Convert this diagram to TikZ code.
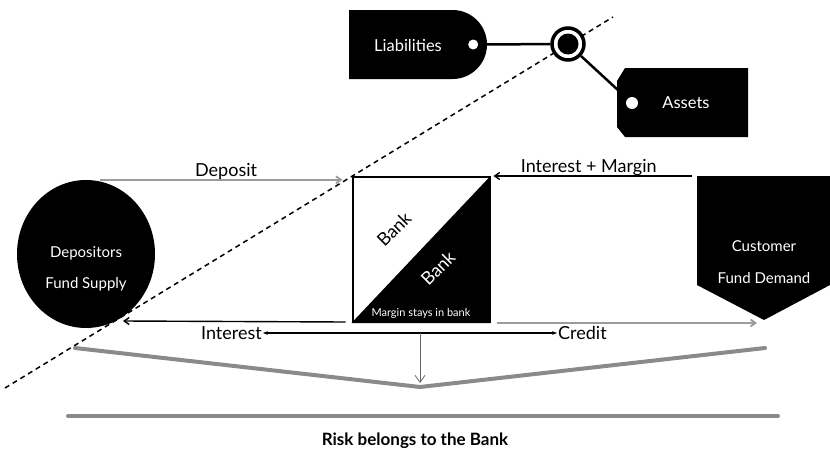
\documentclass[tikz,border=0pt]{standalone}
\usepackage{fontspec}
\setmainfont{Lato}
\usetikzlibrary{arrows.meta, positioning, shapes.geometric, shapes.misc}
\definecolor{flowgray}{HTML}{9B9B9B}
\definecolor{riskgray}{HTML}{8A8A8A}

\begin{document}
\begin{tikzpicture}[
    x=1pt, y=-1pt,
    >=Stealth,
    % --- shape styles ---
    tagbox/.style={fill=black, inner sep=0pt},
    tagtext/.style={text=white, font=\fontsize{16.5}{19}\selectfont},
    hole/.style={circle, fill=white, inner sep=0pt, minimum size=#1},
    party/.style={text=white, align=center, font=\fontsize{15}{18}\selectfont},
    flow/.style={text=black, font=\fontsize{18}{21}\selectfont},
    banktext/.style={rotate=45, font=\fontsize{18}{20}\selectfont},
    % --- connector styles ---
    arr/.style={-{Straight Barb[length=5pt,width=7pt]}, line width=1.4pt},
    grayarr/.style={arr, color=flowgray, line width=1.8pt},
    riskline/.style={line width=4pt, color=riskgray, line cap=round, line join=round},
  ]
  \useasboundingbox (0,0) rectangle (830,455);

  % ── dividing line ──
  \coordinate (cutA) at (5,388);
  \coordinate (cutB) at (613,17);
  \draw[line width=1.5pt, dash pattern=on 5pt off 4pt] (cutA) -- (cutB);

  % ── balance sheet tags ──
  \node[tagbox, rounded rectangle, rounded rectangle left arc=none,
        minimum width=138pt, minimum height=69pt] (liab) at (418,44.5) {};
  \node[tagtext] at (408,45) {Liabilities};
  \node[hole=10pt] (lhole) at ([xshift=-14pt]liab.east) {};

  \fill (625,68) -- (748,68) -- (748,137) -- (625,137) -- (617,127)
    -- (617,81) -- cycle;
  \node[tagtext] (assets) at (686,103) {Assets};
  \node[hole=12pt] (ahole) at (632,103) {};

  \node[circle, draw, line width=3.5pt, fill=white, minimum size=32pt,
        inner sep=0pt] (ring) at (568,44) {};
  \node[circle, fill=black, minimum size=21pt, inner sep=0pt] (ringdot) at (ring.center) {};

  \draw[line width=2.5pt] (lhole) -- (ring);
  \draw[line width=2.5pt] (ring) -- (ahole);

  % ── parties ──
  \node[ellipse, fill=black, minimum width=138pt, minimum height=148pt] (dep) at (86,254) {};
  \node[party] at (86,269) {Depositors\\[13pt]Fund Supply};

  \coordinate (custNW) at (697,176);
  \coordinate (custTip) at (764,320);
  \fill (custNW) -- (830,176) -- (830,285) -- (custTip) -- (697,285) -- cycle;
  \node[party] (cust) at (764,262) {Customer\\[14pt]Fund Demand};

  % ── bank ──
  \node[draw, line width=2pt, fill=white, minimum width=137pt,
        minimum height=145pt, inner sep=0pt] (bank) at (421,249.5) {};
  \fill (bank.south west) -- (bank.north east) -- (bank.south east) -- cycle;
  \node[banktext] at (394,229) {Bank};
  \node[banktext, text=white] at (438,268) {Bank};
  \node[text=white, font=\fontsize{11}{13}\selectfont, anchor=south]
    at ([yshift=1pt]bank.south) {Margin stays in bank};

  % ── money flows ──
  \draw[grayarr] ([xshift=14pt]dep.north) -- ([xshift=-9pt]dep.north -| bank.west)
    node[pos=0.52, above, flow, yshift=-4pt] {Deposit};
  \draw[arr] ([xshift=-5pt]custNW) -- ([xshift=3pt]custNW -| bank.east)
    node[pos=0.52, above, flow, yshift=-4pt] {Interest + Margin};

  \coordinate (depTip) at (123,321);
  \draw[arr] ([xshift=-6pt,yshift=1pt]bank.south west) -- (depTip);
  \draw[grayarr] ([xshift=6pt]bank.south east) -- ([xshift=-7pt]bank.south east -| custTip);

  % ── risk split ──
  \node[flow, anchor=east, inner sep=1pt] (intL) at (263,333) {Interest};
  \node[flow, anchor=west, inner sep=1pt] (credL) at (557,333) {Credit};
  \draw[{Stealth[length=5pt]}-{Stealth[length=5pt]}, line width=1.4pt] (intL) -- (credL);

  \coordinate (split) at (420,333);
  \coordinate (vee) at (420,387);
  \coordinate (riskL) at (75,348);
  \coordinate (riskR) at (765,348);
  \draw[riskline] (riskL) -- (vee) -- (riskR);
  \draw[-{Straight Barb[length=7pt,width=10pt]}, color=black!60, line width=0.8pt]
    (split) -- ([yshift=4pt]vee);

  \coordinate (baseL) at (68,416);
  \coordinate (baseR) at (778,416);
  \draw[riskline] (baseL) -- (baseR);
  \node[font=\bfseries\fontsize{17}{20}\selectfont] (risk) at (415,441)
    {Risk belongs to the Bank};

\end{tikzpicture}
\end{document}
